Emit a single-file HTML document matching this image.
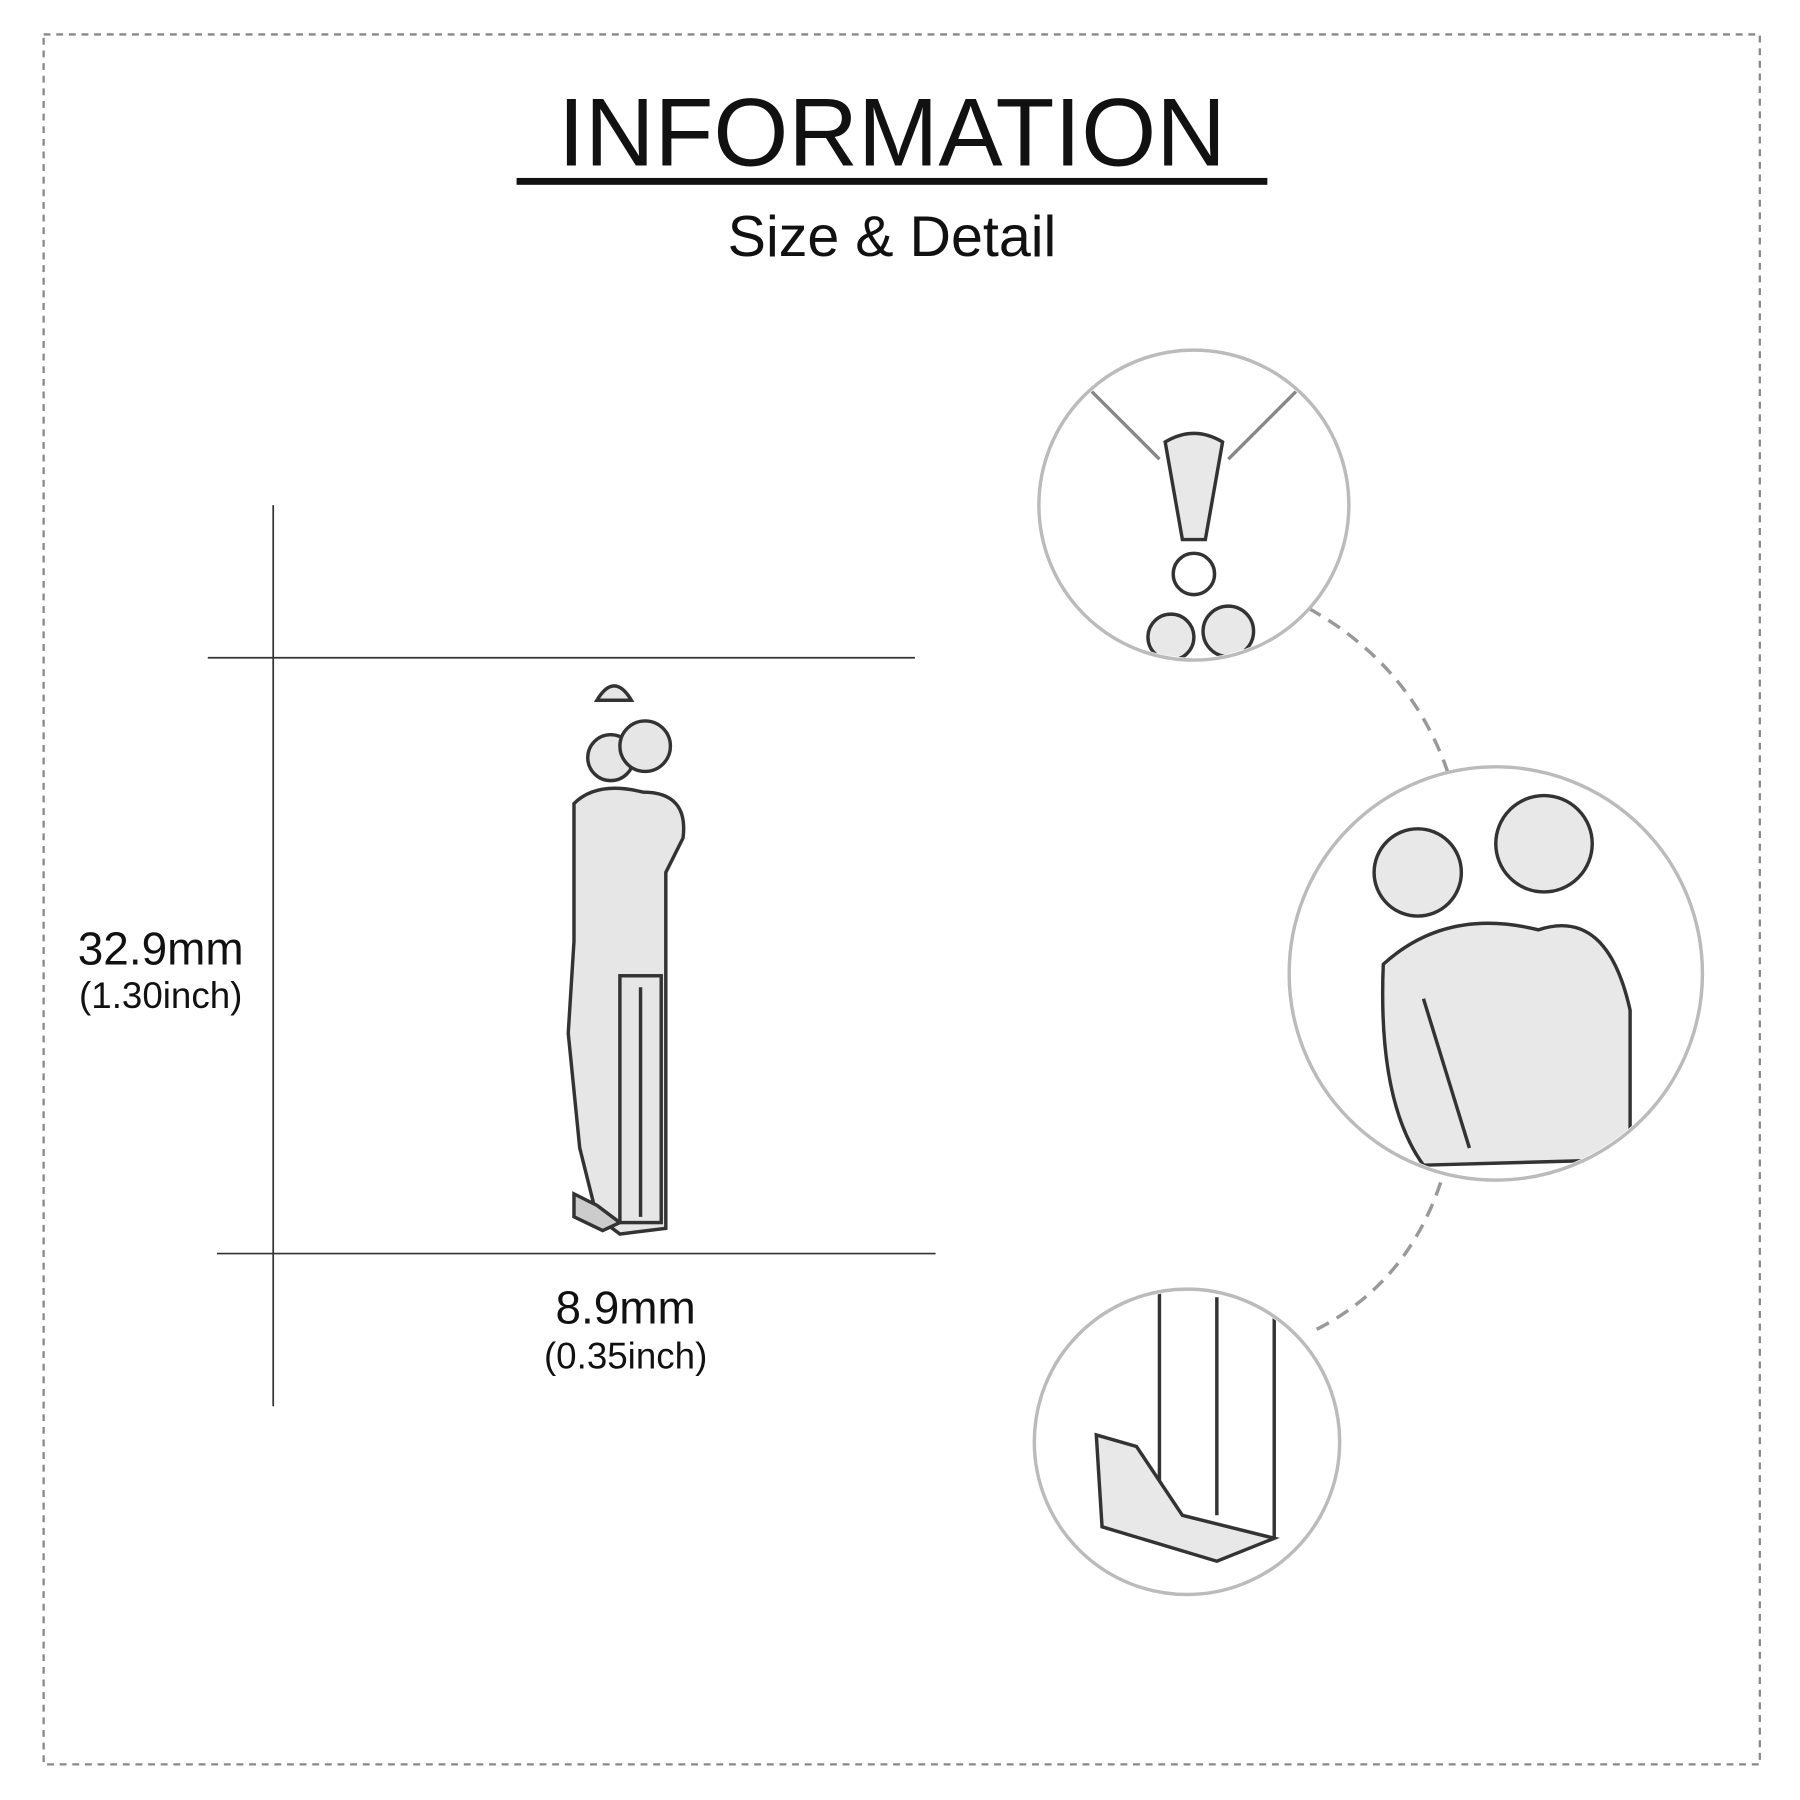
<!DOCTYPE html>
<html><head><meta charset="utf-8"><style>
html,body{margin:0;padding:0;background:#fff;width:1800px;height:1800px;overflow:hidden}
#w{width:1568px;height:1568px;transform:scale(1.14796);transform-origin:0 0;position:relative}
.t{position:absolute;font-family:"Liberation Sans","DejaVu Sans",sans-serif;color:#111;text-align:center;white-space:nowrap}
</style></head><body><div id="w">
<svg width="1568" height="1568" style="position:absolute;left:0;top:0">
<defs>
<clipPath id="c1"><circle cx="1040" cy="440" r="133"/></clipPath>
<clipPath id="c2"><circle cx="1303" cy="848" r="178"/></clipPath>
<clipPath id="c3"><circle cx="1034" cy="1256" r="131"/></clipPath>
</defs>
<rect x="38" y="30" width="1495" height="1507" fill="none" stroke="#888" stroke-width="2" stroke-dasharray="6,5"/>
<rect x="450" y="155" width="654" height="6" fill="#111"/>
<line x1="238" y1="440" x2="238" y2="1225" stroke="#333" stroke-width="1.5"/>
<line x1="181" y1="573" x2="797" y2="573" stroke="#333" stroke-width="1.5"/>
<line x1="189" y1="1092" x2="815" y2="1092" stroke="#333" stroke-width="1.5"/>
<g stroke="#333" stroke-width="3" fill="#e6e6e6">
<path d="M520 610 Q535 585 550 610 Z"/>
<circle cx="532" cy="660" r="20"/><circle cx="562" cy="650" r="22"/>
<path d="M500 700 Q520 680 560 690 Q600 690 595 730 L580 760 L580 1070 L540 1075 L520 1060 L505 1000 L495 900 L500 820 Z"/>
<rect x="540" y="850" width="36" height="215"/>
<line x1="558" y1="860" x2="558" y2="1060"/>
<path d="M500 1040 L520 1050 L540 1065 L525 1072 L500 1060 Z" fill="#ccc"/>
</g>
<g fill="none" stroke="#999" stroke-width="3" stroke-dasharray="12,8">
<path d="M1140 530 Q1230 580 1262 675"/>
<path d="M1255 1030 Q1225 1120 1143 1160"/>
</g>
<g stroke="#333" stroke-width="3" fill="#e8e8e8" clip-path="url(#c1)">
<path d="M950 340 L1010 400 M1130 340 L1070 400" stroke="#888" fill="none"/>
<path d="M1015 385 Q1040 370 1065 385 L1050 470 L1030 470 Z"/>
<circle cx="1040" cy="500" r="18" fill="none"/>
<circle cx="1020" cy="555" r="20"/><circle cx="1070" cy="550" r="22"/>
</g>
<g stroke="#333" stroke-width="3" fill="#e8e8e8" clip-path="url(#c2)">
<circle cx="1235" cy="760" r="38"/><circle cx="1345" cy="735" r="42"/>
<path d="M1205 840 Q1260 790 1340 810 Q1400 790 1420 880 L1420 1010 L1240 1015 Q1200 960 1205 840 Z"/>
<line x1="1240" y1="870" x2="1280" y2="1000"/>
</g>
<g stroke="#333" stroke-width="3" fill="#e8e8e8" clip-path="url(#c3)">
<path d="M1010 1125 L1010 1300 M1060 1130 L1060 1320 M1110 1140 L1110 1340" fill="none"/>
<path d="M955 1250 L990 1260 L1030 1320 L1110 1340 L1060 1360 L960 1330 Z"/>
</g>
<g fill="none" stroke="#bbb" stroke-width="3">
<circle cx="1040" cy="440" r="135"/>
<circle cx="1303" cy="848" r="180"/>
<circle cx="1034" cy="1256" r="133"/>
</g>
</svg>
<div class="t" style="left:377px;top:70px;width:800px;font-size:84px;line-height:90px">INFORMATION</div>
<div class="t" style="left:477px;top:176px;width:600px;font-size:50px;line-height:60px">Size &amp; Detail</div>
<div class="t" style="left:40px;top:805px;width:200px;font-size:40px;line-height:44px">32.9mm</div>
<div class="t" style="left:40px;top:849px;width:200px;font-size:32px;line-height:36px">(1.30inch)</div>
<div class="t" style="left:445px;top:1118px;width:200px;font-size:40px;line-height:44px">8.9mm</div>
<div class="t" style="left:445px;top:1163px;width:200px;font-size:32px;line-height:36px">(0.35inch)</div>
</div></body></html>
